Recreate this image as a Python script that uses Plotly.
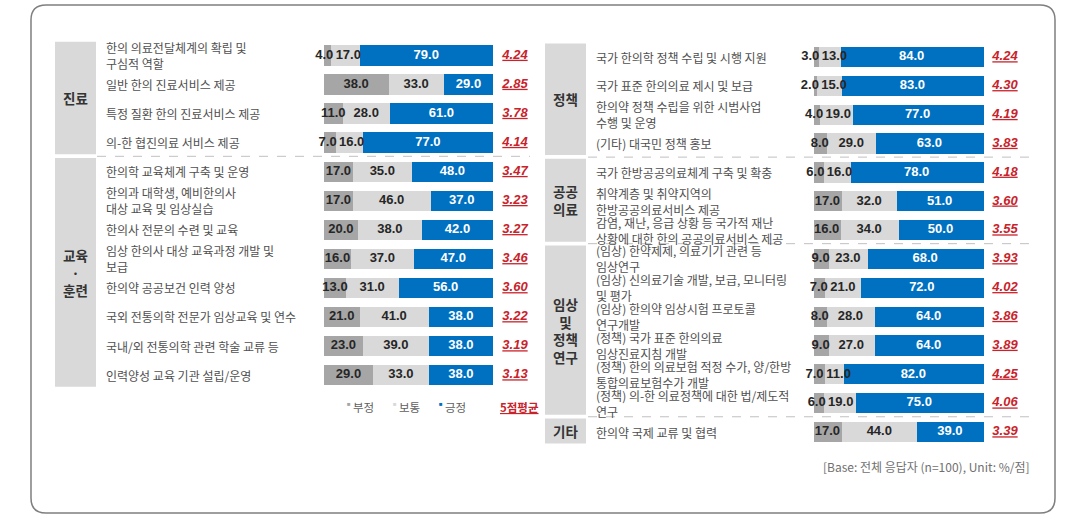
import plotly.graph_objects as go

W, H = 1074, 523

# ---------------- data ----------------
left_labels = [
    "한의 의료전달체계의 확립 및<br>구심적 역할",
    "일반 한의 진료서비스 제공",
    "특정 질환 한의 진료서비스 제공",
    "의-한 협진의료 서비스 제공",
    "한의학 교육체계 구축 및 운영",
    "한의과 대학생, 예비한의사<br>대상 교육 및 임상실습",
    "한의사 전문의 수련 및 교육",
    "임상 한의사 대상 교육과정 개발 및<br>보급",
    "한의약 공공보건 인력 양성",
    "국외 전통의학 전문가 임상교육 및 연수",
    "국내/외 전통의학 관련 학술 교류 등",
    "인력양성 교육 기관 설립/운영",
]
left_neg = [4.0, 38.0, 11.0, 7.0, 17.0, 17.0, 20.0, 16.0, 13.0, 21.0, 23.0, 29.0]
left_mid = [17.0, 33.0, 28.0, 16.0, 35.0, 46.0, 38.0, 37.0, 31.0, 41.0, 39.0, 33.0]
left_pos = [79.0, 29.0, 61.0, 77.0, 48.0, 37.0, 42.0, 47.0, 56.0, 38.0, 38.0, 38.0]
left_avg = [4.24, 2.85, 3.78, 4.14, 3.47, 3.23, 3.27, 3.46, 3.60, 3.22, 3.19, 3.13]
left_group_names = ["진료", "교육<br>·<br>훈련"]
left_group_sizes = [4, 8]

right_labels = [
    "국가 한의학 정책 수립 및 시행 지원",
    "국가 표준 한의의료 제시 및 보급",
    "한의약 정책 수립을 위한 시범사업<br>수행 및 운영",
    "(기타) 대국민 정책 홍보",
    "국가 한방공공의료체계 구축 및 확충",
    "취약계층 및 취약지역의<br>한방공공의료서비스 제공",
    "감염, 재난, 응급 상황 등 국가적 재난<br>상황에 대한 한의 공공의료서비스 제공",
    "(임상) 한약제제, 의료기기 관련 등<br>임상연구",
    "(임상) 신의료기술 개발, 보급, 모니터링<br>및 평가",
    "(임상) 한의약 임상시험 프로토콜<br>연구개발",
    "(정책) 국가 표준 한의의료<br>임상진료지침 개발",
    "(정책) 한의 의료보험 적정 수가, 양/한방<br>통합의료보험수가 개발",
    "(정책) 의-한 의료정책에 대한 법/제도적<br>연구",
    "한의약 국제 교류 및 협력",
]
right_neg = [3.0, 2.0, 4.0, 8.0, 6.0, 17.0, 16.0, 9.0, 7.0, 8.0, 9.0, 7.0, 6.0, 17.0]
right_mid = [13.0, 15.0, 19.0, 29.0, 16.0, 32.0, 34.0, 23.0, 21.0, 28.0, 27.0, 11.0, 19.0, 44.0]
right_pos = [84.0, 83.0, 77.0, 63.0, 78.0, 51.0, 50.0, 68.0, 72.0, 64.0, 64.0, 82.0, 75.0, 39.0]
right_avg = [4.24, 4.30, 4.19, 3.83, 4.18, 3.60, 3.55, 3.93, 4.02, 3.86, 3.89, 4.25, 4.06, 3.39]
right_group_names = ["정책", "공공<br>의료", "임상<br>및<br>정책<br>연구", "기타"]
right_group_sizes = [4, 3, 6, 1]

series_names = ["부정", "보통", "긍정"]
avg_name = "5점평균"
footer_text = "[Base: 전체 응답자 (n=100), Unit: %/점]"

# ---------------- style ----------------
C_NEG, C_MID, C_POS = "#a6a6a6", "#d9d9d9", "#0070c0"
C_RED = "#c8232b"
C_LABEL = "#505050"
NUM_FONT = "Arial, 'Liberation Sans', sans-serif"
KR_FONT = "'Noto Sans CJK KR', 'Noto Sans', sans-serif"

XLO, XHI = -15.0, 128.0   # axis range extended so outside labels are kept

panels = [
    dict(labels=left_labels, neg=left_neg, mid=left_mid, pos=left_pos, avg=left_avg,
         gnames=left_group_names, gsizes=left_group_sizes,
         xa="x", ya="y", bar_px=(324, 493), top0=55.5, step=29.05,
         label_x=105, box_x=(55, 96), sep_x=(97, 530)),
    dict(labels=right_labels, neg=right_neg, mid=right_mid, pos=right_pos, avg=right_avg,
         gnames=right_group_names, gsizes=right_group_sizes,
         xa="x2", ya="y2", bar_px=(813, 983), top0=57.0, step=28.85,
         label_x=595, box_x=(545, 586), sep_x=(588, 1030)),
]


def txt_w(s):
    # approximate pixel width of bold 13px Arial numbers
    return sum(3.6 if ch == "." else 7.2 for ch in s)


fig = go.Figure()
shapes, annos = [], []

for p in panels:
    n = len(p["labels"])
    rows = list(range(n))
    ppu = (p["bar_px"][1] - p["bar_px"][0]) / 100.0

    for vals, col, nm in zip([p["neg"], p["mid"], p["pos"]], [C_NEG, C_MID, C_POS], series_names):
        fig.add_trace(go.Bar(
            x=vals, y=rows, orientation="h", name=nm, xaxis=p["xa"], yaxis=p["ya"],
            marker=dict(color=col, line=dict(width=0)), width=0.7,
            showlegend=False, hoverinfo="skip"))

    # value labels at segment centres, spread apart where they would collide
    lx, ly, lt, lc = [], [], [], []
    for i in rows:
        segs = [p["neg"][i], p["mid"][i], p["pos"][i]]
        texts = [f"{v:.1f}" for v in segs]
        centers, acc = [], 0.0
        for v in segs:
            centers.append(acc + v / 2)
            acc += v
        for _ in range(4):
            for k in range(2):
                req = ((txt_w(texts[k]) + txt_w(texts[k + 1])) / 2 + 2.5) / ppu
                gap = centers[k + 1] - centers[k]
                if gap < req:
                    d = req - gap
                    centers[k] -= d / 2
                    centers[k + 1] += d / 2
        for k in range(3):
            lx.append(centers[k]); ly.append(i); lt.append(texts[k])
            lc.append("#ffffff" if k == 2 else "#262626")
    fig.add_trace(go.Scatter(
        x=lx, y=ly, text=lt, mode="text", textposition="middle center",
        textfont=dict(family=NUM_FONT, size=13, color=lc, weight="bold"),
        xaxis=p["xa"], yaxis=p["ya"], cliponaxis=False, showlegend=False, hoverinfo="skip"))

    # 5-point averages
    avg_col_x = 100 + 22 / ppu
    fig.add_trace(go.Scatter(
        x=[avg_col_x] * n, y=rows, text=[f"<u>{a:.2f}</u>" for a in p["avg"]],
        mode="text", textposition="middle center",
        textfont=dict(family=NUM_FONT, size=13, color=C_RED, weight="bold", style="italic"),
        xaxis=p["xa"], yaxis=p["ya"], cliponaxis=False, showlegend=False, hoverinfo="skip"))

    # row labels
    for i, lab in enumerate(p["labels"]):
        annos.append(dict(
            x=p["label_x"] / W, xref="paper", y=i, yref=p["ya"], xanchor="left",
            yanchor="middle", text=lab, showarrow=False, align="left", borderpad=0,
            font=dict(family=KR_FONT, size=12, color=C_LABEL)))

    # group boxes, group names, dashed separators
    start = 0
    for gi, (gname, gsize) in enumerate(zip(p["gnames"], p["gsizes"])):
        first, last = start, start + gsize - 1
        shapes.append(dict(type="rect", xref="paper", yref=p["ya"],
                           x0=p["box_x"][0] / W, x1=p["box_x"][1] / W,
                           y0=first - 0.47, y1=last + 0.40,
                           fillcolor="#d9d9d9", line=dict(width=0), layer="below"))
        annos.append(dict(
            x=(p["box_x"][0] + p["box_x"][1]) / 2 / W, xref="paper",
            y=(first + last) / 2 - 0.03, yref=p["ya"],
            xanchor="center", yanchor="middle", text=f"<b>{gname}</b>", showarrow=False,
            align="center", borderpad=0,
            font=dict(family=KR_FONT, size=13.5, color="#333333")))
        if gi < len(p["gsizes"]) - 1:
            shapes.append(dict(type="line", xref="paper", yref=p["ya"],
                               x0=p["sep_x"][0] / W, x1=p["sep_x"][1] / W,
                               y0=last + 0.47, y1=last + 0.47,
                               line=dict(color="#c0c0c0", width=1, dash="dash")))
        start += gsize

# legend (left panel, under the bars)
leg_y = 1 - 407 / H
for nm, col, x0 in zip(series_names, [C_NEG, C_MID, C_POS], [345, 391, 437]):
    annos.append(dict(x=x0 / W, xref="paper", y=leg_y, yref="paper", xanchor="left",
                      yanchor="middle", text="■", showarrow=False, yshift=3,
                      font=dict(family=NUM_FONT, size=6, color=col)))
    annos.append(dict(x=(x0 + 6) / W, xref="paper", y=leg_y, yref="paper", xanchor="left",
                      yanchor="middle", text=nm, showarrow=False,
                      font=dict(family=KR_FONT, size=11.5, color="#606060")))
annos.append(dict(x=498 / W, xref="paper", y=leg_y, yref="paper", xanchor="left",
                  yanchor="middle", text=f"<b><u>{avg_name}</u></b>", showarrow=False,
                  font=dict(family=KR_FONT, size=11.5, color=C_RED)))

# footer
annos.append(dict(x=1032 / W, xref="paper", y=1 - 466 / H, yref="paper", xanchor="right",
                  yanchor="middle", text=footer_text, showarrow=False,
                  font=dict(family=KR_FONT, size=12, color="#707070")))

# rounded outer frame
x0, x1, y0, y1, r = 31, 1055, 5, 513, 15
def P(x, y):
    return f"{x / W:.5f},{1 - y / H:.5f}"
path = (f"M {P(x0 + r, y0)} L {P(x1 - r, y0)} Q {P(x1, y0)} {P(x1, y0 + r)} "
        f"L {P(x1, y1 - r)} Q {P(x1, y1)} {P(x1 - r, y1)} "
        f"L {P(x0 + r, y1)} Q {P(x0, y1)} {P(x0, y1 - r)} "
        f"L {P(x0, y0 + r)} Q {P(x0, y0)} {P(x0 + r, y0)} Z")
shapes.append(dict(type="path", xref="paper", yref="paper", path=path,
                   line=dict(color="#7f7f7f", width=1.5), fillcolor="rgba(0,0,0,0)"))

layout_axes = {}
for p, xk, yk in zip(panels, ["xaxis", "xaxis2"], ["yaxis", "yaxis2"]):
    ppu = (p["bar_px"][1] - p["bar_px"][0]) / 100.0
    d0 = p["bar_px"][0] + XLO * ppu
    d1 = p["bar_px"][0] + XHI * ppu
    layout_axes[xk] = dict(domain=[d0 / W, d1 / W], range=[XLO, XHI],
                           visible=False, fixedrange=True, anchor=p["ya"])
    layout_axes[yk] = dict(domain=[0, 1],
                           range=[(H - p["top0"]) / p["step"], -p["top0"] / p["step"]],
                           visible=False, fixedrange=True, anchor=p["xa"])

fig.update_layout(
    width=W, height=H, margin=dict(l=0, r=0, t=0, b=0),
    paper_bgcolor="white", plot_bgcolor="rgba(0,0,0,0)",
    barmode="stack", bargap=0, showlegend=False,
    shapes=shapes, annotations=annos, **layout_axes)

fig.write_html("out.html", config={"displayModeBar": False})
